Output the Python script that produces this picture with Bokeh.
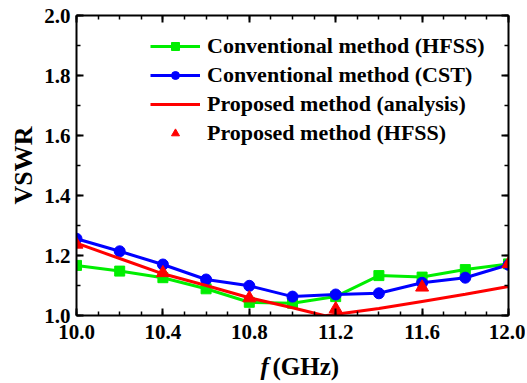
from bokeh.plotting import figure
from bokeh.models import (Range1d, LinearAxis, Legend, LegendItem, Label,
                          SingleIntervalTicker, NumeralTickFormatter)
from bokeh.embed import file_html
from bokeh.resources import INLINE

# ---- data ----
freq = [10.0, 10.2, 10.4, 10.6, 10.8, 11.0, 11.2, 11.4, 11.6, 11.8, 12.0]
conv_hfss = [1.167, 1.148, 1.126, 1.089, 1.044, 1.041, 1.063, 1.133, 1.128, 1.153, 1.172]
conv_cst = [1.256, 1.214, 1.170, 1.120, 1.099, 1.063, 1.070, 1.074, 1.109, 1.126, 1.169]
analysis_freq = [10.0, 10.2, 10.4, 10.6, 10.8, 11.0, 11.15, 11.4, 11.6, 11.8, 12.0]
analysis_vswr = [1.241, 1.190, 1.139, 1.100, 1.059, 1.026, 0.999, 1.023, 1.047, 1.071, 1.097]
prop_freq = [10.0, 10.4, 10.8, 11.2, 11.6, 12.0]
prop_vswr = [1.237, 1.142, 1.058, 1.022, 1.094, 1.172]

labels = ["Conventional method (HFSS)", "Conventional method (CST)",
          "Proposed method (analysis)", "Proposed method (HFSS)"]

FONT = "Liberation Serif"
GREEN = "#00EE00"
BLUE = "#0000FF"
RED = "#FF0000"

p = figure(width=525, height=381, x_range=Range1d(10.0, 12.0), y_range=Range1d(1.0, 2.0),
           output_backend="svg", toolbar_location=None,
           min_border_left=76, min_border_right=17, min_border_top=15, min_border_bottom=66)
p.xgrid.visible = False
p.ygrid.visible = False
p.outline_line_color = None
p.background_fill_color = "white"

xax = p.xaxis[0]
yax = p.yaxis[0]
xax.ticker = SingleIntervalTicker(interval=0.4, num_minor_ticks=4)
yax.ticker = SingleIntervalTicker(interval=0.2, num_minor_ticks=2)
xax.formatter = NumeralTickFormatter(format="0.0")
yax.formatter = NumeralTickFormatter(format="0.0")

top = LinearAxis(ticker=SingleIntervalTicker(interval=0.4, num_minor_ticks=4))
right = LinearAxis(ticker=SingleIntervalTicker(interval=0.2, num_minor_ticks=2))
p.add_layout(top, "above")
p.add_layout(right, "right")

for ax in [xax, yax, top, right]:
    ax.axis_line_width = 2
    ax.axis_line_color = "black"
    ax.major_tick_line_width = 2
    ax.major_tick_in = 7
    ax.major_tick_out = 0
    ax.minor_tick_line_width = 1.5
    ax.minor_tick_in = 4
    ax.minor_tick_out = 0
    ax.major_label_text_font = FONT
    ax.major_label_text_font_style = "bold"
    ax.major_label_text_color = "black"
    ax.major_label_text_font_size = "21px"

for ax in [top, right]:
    ax.major_label_text_color = None
    ax.major_label_text_font_size = "1px"
    ax.major_label_standoff = 0

xax.major_label_standoff = 9
yax.major_label_standoff = 6
yax.axis_label = "VSWR"
yax.axis_label_text_font = FONT
yax.axis_label_text_font_style = "bold"
yax.axis_label_text_font_size = "26px"
yax.axis_label_standoff = 3
yax.axis_label_text_color = "black"

# ---- series ----
g_line = p.line(freq, conv_hfss, line_color=GREEN, line_width=3)
g_pts = p.scatter(freq, conv_hfss, marker="square", size=10, fill_color=GREEN, line_color=GREEN)
b_line = p.line(freq, conv_cst, line_color=BLUE, line_width=3)
b_pts = p.scatter(freq, conv_cst, marker="circle", size=11, fill_color=BLUE, line_color=BLUE)
r_line = p.line(analysis_freq, analysis_vswr, line_color=RED, line_width=3)
r_pts = p.scatter(prop_freq, prop_vswr, marker="triangle", size=13, fill_color=RED, line_color=RED)

legend = Legend(items=[
    LegendItem(label=labels[0], renderers=[g_line, g_pts]),
    LegendItem(label=labels[1], renderers=[b_line, b_pts]),
    LegendItem(label=labels[2], renderers=[r_line]),
    LegendItem(label=labels[3], renderers=[r_pts]),
], location=(74, 169), border_line_color=None, background_fill_alpha=0,
    padding=0, spacing=3, glyph_width=50, glyph_height=20, label_height=20,
    label_standoff=7, label_text_font=FONT, label_text_font_style="bold",
    label_text_font_size="22px", label_text_color="black")
p.add_layout(legend)

# ---- x axis title: italic f + (GHz); placed in side panels (not clipped by the frame) ----
p.add_layout(Label(x=10.852, y=0.83, text="f", text_font=FONT, text_font_style="bold italic",
                   text_font_size="25px", text_color="black", text_baseline="alphabetic"), "right")
p.add_layout(Label(x=10.907, y=0.83, text="(GHz)", text_font=FONT, text_font_style="bold",
                   text_font_size="25px", text_color="black", text_baseline="alphabetic"), "below")

open("out.html", "w").write(file_html(p, INLINE))
